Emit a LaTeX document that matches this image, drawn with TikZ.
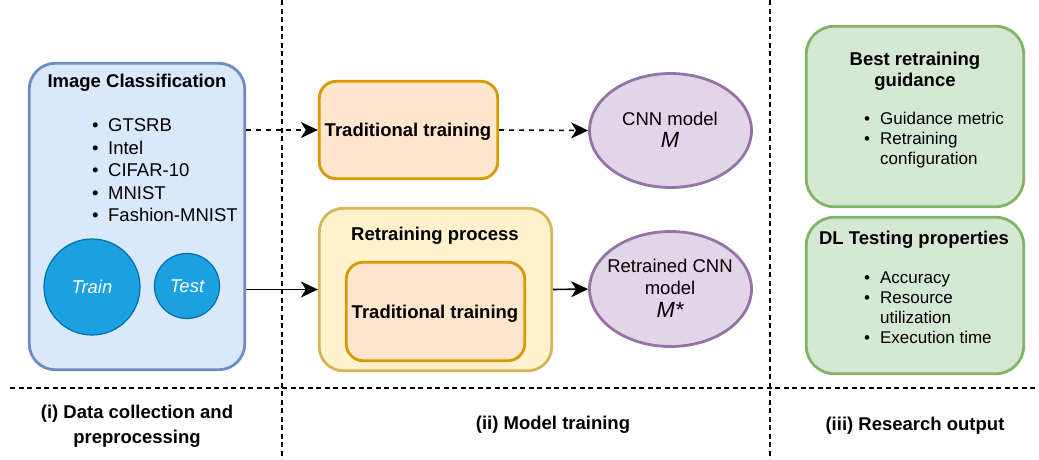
\documentclass[tikz,border=0pt]{standalone}
\usepackage{fontspec}
\setmainfont{Liberation Sans}
\usetikzlibrary{arrows.meta,shapes.geometric}

\definecolor{blueFill}{HTML}{DAE8FC}
\definecolor{blueLine}{HTML}{6C8EBF}
\definecolor{setFill}{HTML}{1BA1E2}
\definecolor{setLine}{HTML}{006EAF}
\definecolor{orangeFill}{HTML}{FFE6CC}
\definecolor{orangeLine}{HTML}{D79B00}
\definecolor{yellowFill}{HTML}{FFF2CC}
\definecolor{yellowLine}{HTML}{D6B656}
\definecolor{purpleFill}{HTML}{E1D5E7}
\definecolor{purpleLine}{HTML}{9673A6}
\definecolor{greenFill}{HTML}{D5E8D4}
\definecolor{greenLine}{HTML}{82B366}

\tikzset{
  panel/.style={draw, rounded corners=#1, line width=2.8pt, inner sep=0pt},
  bluebox/.style={panel=26pt, fill=blueFill, draw=blueLine},
  orangebox/.style={panel=17pt, fill=orangeFill, draw=orangeLine},
  yellowbox/.style={panel=24pt, fill=yellowFill, draw=yellowLine},
  greenbox/.style={panel=28pt, fill=greenFill, draw=greenLine},
  model/.style={ellipse, draw=purpleLine, fill=purpleFill, line width=2.8pt, inner sep=0pt},
  modeltext/.style={inner sep=0pt, align=center, font=\fontsize{18.5}{22.5}\selectfont},
  subset/.style={circle, draw=setLine, fill=setFill, line width=1.2pt, inner sep=0pt,
    text=white, font=\fontsize{18.5}{21}\selectfont\itshape},
  title/.style={inner sep=0pt, align=center, font=\fontsize{18.5}{21}\selectfont\bfseries},
  caption/.style={inner sep=0pt, align=center, font=\fontsize{18.5}{25.5}\selectfont\bfseries},
  biglist/.style={inner sep=0pt, anchor=base west, font=\fontsize{18.5}{22.5}\selectfont},
  smalllist/.style={inner sep=0pt, anchor=base west, font=\fontsize{17}{20}\selectfont},
  flow/.style={line width=1.6pt, -{Stealth[length=17pt,width=16pt,inset=5pt]}},
  flowdash/.style={flow, dash pattern=on 5pt off 5pt},
  separator/.style={line width=1.6pt, dash pattern=on 5pt off 3.5pt}
}

\begin{document}
\begin{tikzpicture}[x=1pt,y=-1pt]
\useasboundingbox (0,0) rectangle (1039,459);

% column and row separators
\coordinate (sepAtop) at (282,0);
\coordinate (sepAbot) at (282,459);
\coordinate (sepBtop) at (770,0);
\coordinate (sepBbot) at (770,459);
\coordinate (rowL) at (10,388);
\coordinate (rowR) at (1039,388);
\draw[separator] (sepAtop) -- (sepAbot);
\draw[separator] (sepBtop) -- (sepBbot);
\draw[separator] (rowL) -- (rowR);

% (i) data collection
\node[bluebox, minimum width=215.5pt, minimum height=306.5pt] (data) at (137,216.5) {};
\node[title] (dataTitle) at (137,83) {Image Classification};
\node[biglist] (dataList) at (92,131.5) {%
  \begin{tabular}[t]{@{}l@{\hspace{9.5pt}}l@{}}
  • & GTSRB\\
  • & Intel\\
  • & CIFAR-10\\
  • & MNIST\\
  • & Fashion-MNIST
  \end{tabular}};
\node[subset, minimum size=96pt] (train) at (92,287) {Train};
\node[subset, minimum size=65pt] (test) at (187,286) {Test};

% (ii) model training
\node[orangebox, minimum width=178.5pt, minimum height=97.5pt] (trad) at (408.5,130) {};
\node[title] (tradText) at (408,132) {Traditional training};
\node[model, minimum width=162pt, minimum height=114pt] (cnn) at (670.5,130.5) {};
\node[modeltext] (cnnText) at (670,130) {CNN model\\[0pt]{\fontsize{22}{22}\selectfont\itshape M}};

\node[yellowbox, minimum width=232.5pt, minimum height=162.5pt] (retrain) at (435.5,289.5) {};
\node[title] (retrainTitle) at (435,236) {Retraining process};
\node[orangebox, minimum width=178.5pt, minimum height=98.5pt] (inner) at (435.5,311.5) {};
\node[title] (innerText) at (435,314) {Traditional training};
\node[model, minimum width=162pt, minimum height=115pt] (rcnn) at (670.5,289) {};
\node[modeltext] (rcnnText) at (670,288) {Retrained CNN\\model\\[0pt]{\fontsize{22}{22}\selectfont\itshape M*}};

\draw[flowdash] (data.east |- trad.west) -- (trad.west);
\draw[flowdash] (trad.east) -- (cnn.west);
\draw[flow] (data.east |- retrain.west) -- (retrain.west);
\draw[flow] (retrain.east) -- (rcnn.west);

% (iii) research output
\node[greenbox, minimum width=217.5pt, minimum height=180.5pt] (guide) at (915,116.5) {};
\node[title] (guideTitle) at (915,71.5) {Best retraining\\guidance};
\node[smalllist] (guideList) at (864,124) {%
  \begin{tabular}[t]{@{}l@{\hspace{10pt}}l@{}}
  • & Guidance metric\\
  • & Retraining\\
    & configuration
  \end{tabular}};

\node[greenbox, minimum width=217.5pt, minimum height=156.5pt] (props) at (915,295.5) {};
\node[title] (propsTitle) at (914,240) {DL Testing properties};
\node[smalllist] (propsList) at (864,283.5) {%
  \begin{tabular}[t]{@{}l@{\hspace{10pt}}l@{}}
  • & Accuracy\\
  • & Resource\\
    & utilization\\
  • & Execution time
  \end{tabular}};

% column captions
\node[caption] (capA) at (137,426) {(i) Data collection and\\preprocessing};
\node[caption] (capB) at (553,425) {(ii) Model training};
\node[caption] (capC) at (915,426) {(iii) Research output};
\end{tikzpicture}
\end{document}
